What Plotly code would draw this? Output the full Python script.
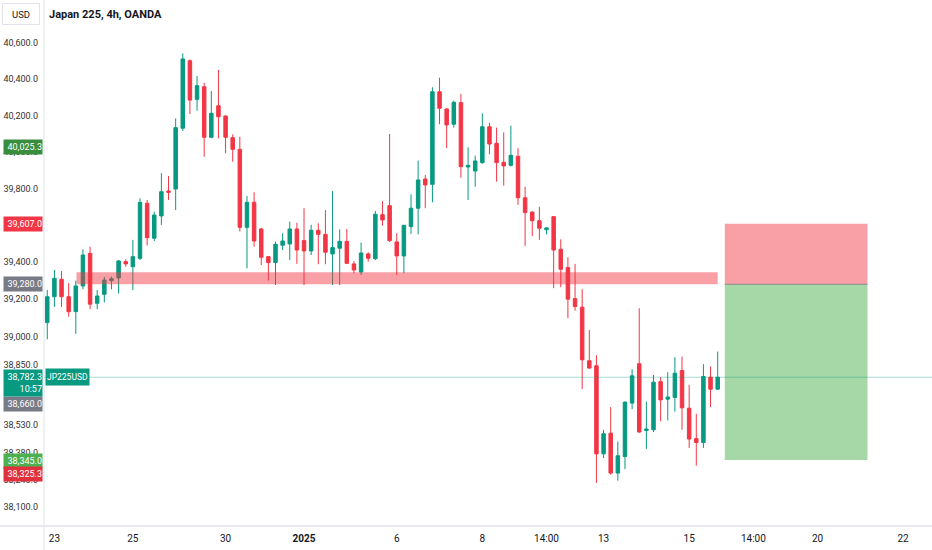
import math
import plotly.graph_objects as go

# ---------------- data ----------------
opens = [39074, 39213, 39307, 39213, 39133, 39271, 39447, 39178, 39226, 39300,
         39314, 39402, 39375, 39420, 39719, 39529, 39650, 39786, 39797, 40130,
         40503, 40289, 40359, 40080, 40254, 40197, 40078, 40014, 39588, 39724,
         39579, 39429, 39397, 39491, 39498, 39579, 39516, 39460, 39572, 39550,
         39444, 39475, 39512, 39390, 39346, 39444, 39418, 39657, 39706, 39509,
         39433, 39592, 39692, 39851, 39822, 40331, 40236, 40152, 40271, 39917,
         39895, 39941, 40138, 40047, 39943, 39926, 39976, 39749, 39671, 39624,
         39575, 39646, 39469, 39370, 39203, 39157, 38870, 38843, 38377, 38486,
         38276, 38363, 38645, 38854, 38500, 38504, 38759, 38666, 38675, 38818,
         38618, 38457, 38437, 38783, 38719]
highs = [39249, 39357, 39352, 39286, 39300, 39469, 39483, 39249, 39320, 39322,
         39411, 39415, 39520, 39746, 39737, 39673, 39883, 39868, 40184, 40544,
         40510, 40418, 40381, 40335, 40452, 40200, 40096, 40083, 39759, 39779,
         39585, 39432, 39510, 39556, 39619, 39613, 39692, 39602, 39610, 39682,
         39786, 39577, 39579, 39406, 39505, 39453, 39677, 39731, 40098, 39556,
         39600, 39768, 39952, 39873, 40356, 40409, 40240, 40282, 40319, 40025,
         39979, 40212, 40160, 40133, 40107, 40144, 40020, 39809, 39675, 39700,
         39588, 39650, 39523, 39426, 39390, 39253, 39035, 38900, 38504, 38624,
         38442, 38655, 38825, 39151, 38653, 38795, 38783, 38809, 38889, 38892,
         38742, 38588, 38852, 38839, 38919]
lows = [38985, 39158, 39158, 39106, 39014, 39253, 39146, 39146, 39182, 39253,
        39230, 39375, 39249, 39411, 39489, 39514, 39601, 39737, 39682, 40115,
        40208, 40226, 39973, 40075, 40074, 39992, 39946, 39565, 39366, 39483,
        39384, 39300, 39276, 39465, 39411, 39390, 39276, 39438, 39388, 39388,
        39276, 39276, 39390, 39339, 39330, 39402, 39411, 39597, 39509, 39330,
        39339, 39552, 39550, 39692, 39724, 40152, 40020, 40133, 39858, 39737,
        39809, 39935, 39987, 39837, 39815, 39920, 39710, 39487, 39541, 39520,
        39550, 39259, 39264, 39098, 39138, 38719, 38828, 38224, 38355, 38267,
        38236, 38297, 38613, 38488, 38402, 38492, 38548, 38553, 38600, 38504,
        38408, 38315, 38408, 38624, 38715]
closes = [39213, 39312, 39213, 39133, 39271, 39438, 39173, 39217, 39303, 39310,
          39406, 39390, 39429, 39724, 39532, 39655, 39782, 39779, 40133, 40513,
          40285, 40365, 40080, 40212, 40193, 40080, 40014, 39588, 39724, 39514,
          39426, 39397, 39496, 39514, 39579, 39465, 39460, 39572, 39550, 39453,
          39478, 39512, 39393, 39357, 39449, 39420, 39659, 39628, 39516, 39433,
          39599, 39692, 39846, 39819, 40331, 40240, 40148, 40273, 39919, 39926,
          39950, 40138, 40043, 39941, 39923, 39981, 39749, 39668, 39624, 39583,
          39585, 39465, 39361, 39200, 39160, 38875, 38831, 38377, 38483, 38276,
          38367, 38650, 38790, 38492, 38508, 38756, 38662, 38677, 38804, 38620,
          38455, 38437, 38786, 38719, 38782.3]
bar_index = list(range(len(opens)))

x_tick_pos = [1, 12, 25, 36, 49, 61, 70, 78, 90, 99, 108, 120]
x_tick_labels = ["23", "25", "30", "<b>2025</b>", "6", "8", "14:00", "13",
                 "15", "14:00", "20", "22"]

y_ticks = [40600, 40400, 40200, 40000, 39800, 39400, 39200, 39000,
           38850, 38530, 38380, 38240, 38100]

# drawings
zone_start, zone_end = 4.1, 94
zone_low, zone_high = 39280.0, 39345.0
pos_start, pos_end = 95, 115
entry_price = 39280.0
stop_price = 39607.0
target_price = 38345.0
last_price = 38782.3

# price-scale labels: (price, text, colour, pixel shift)
scale_labels = [
    (40025.3, "40,025.3", "#388e3c", 0),
    (39607.0, "39,607.0", "#f23645", 0),
    (39280.0, "39,280.0", "#787b86", 0),
    (38660.0, "38,660.0", "#787b86", -4),
    (38345.0, "38,345.0", "#4caf50", -1),
    (38325.3, "38,325.3", "#e0303c", -10),
]

UP = "#089981"
DOWN = "#f23645"
FONT = "Roboto"

fig = go.Figure(go.Candlestick(
    x=bar_index, open=opens, high=highs, low=lows, close=closes,
    increasing=dict(line=dict(color=UP, width=1), fillcolor=UP),
    decreasing=dict(line=dict(color=DOWN, width=1), fillcolor=DOWN),
    whiskerwidth=0, hoverinfo="skip", showlegend=False,
))

shapes = [
    # support/resistance zone
    dict(type="rect", xref="x", yref="y", x0=zone_start, x1=zone_end,
         y0=zone_low, y1=zone_high, fillcolor="rgba(242,54,69,0.47)",
         line=dict(width=0), layer="above"),
    # short position: risk box
    dict(type="rect", xref="x", yref="y", x0=pos_start, x1=pos_end,
         y0=entry_price, y1=stop_price, fillcolor="rgba(242,54,69,0.47)",
         line=dict(width=0), layer="above"),
    # reward box
    dict(type="rect", xref="x", yref="y", x0=pos_start, x1=pos_end,
         y0=target_price, y1=entry_price, fillcolor="rgba(76,175,80,0.5)",
         line=dict(width=0), layer="above"),
    dict(type="line", xref="x", yref="y", x0=pos_start, x1=pos_end,
         y0=entry_price, y1=entry_price, line=dict(color="#8a8a8a", width=1),
         layer="above"),
    # last price line
    dict(type="line", xref="paper", yref="y", x0=0, x1=1,
         y0=last_price, y1=last_price,
         line=dict(color="rgba(8,153,129,0.35)", width=1), layer="above"),
    # axis borders
    dict(type="line", xref="paper", yref="paper", x0=-0.05, x1=1, y0=0, y1=0,
         line=dict(color="#d1d4dc", width=1)),
    dict(type="line", xref="paper", yref="paper", x0=0, x1=0, y0=-0.05, y1=1,
         line=dict(color="#e0e3eb", width=1)),
]

annotations = []
for price, text, col, shift in scale_labels:
    annotations.append(dict(
        xref="paper", x=0, xanchor="right", xshift=-1,
        yref="y", y=math.log10(price), yanchor="middle", yshift=shift,
        text=text, showarrow=False, bgcolor=col, width=38, height=14,
        align="right", borderpad=0,
        font=dict(family=FONT, size=9, color="white")))

annotations.append(dict(
    xref="paper", x=0, xanchor="right", xshift=-1,
    yref="y", y=math.log10(last_price), yanchor="top", yshift=8,
    text=f"{last_price:,.1f}<br>10:57", showarrow=False, bgcolor=UP,
    width=38, height=26, align="right", borderpad=0,
    font=dict(family=FONT, size=9, color="white")))
annotations.append(dict(
    xref="paper", x=0, xanchor="left", xshift=1,
    yref="y", y=math.log10(last_price), yanchor="middle",
    text="JP225USD", showarrow=False, bgcolor=UP, height=14,
    borderpad=1, font=dict(family=FONT, size=8.5, color="white")))
annotations.append(dict(
    xref="paper", x=0, xanchor="left", xshift=3,
    yref="paper", y=1, yanchor="top", yshift=-6,
    text="<b>Japan 225, 4h, OANDA</b>", showarrow=False,
    font=dict(family=FONT, size=11, color="#131722")))
annotations.append(dict(
    xref="paper", x=0, xanchor="right", xshift=-4,
    yref="paper", y=1, yanchor="top", yshift=-3,
    text="USD", showarrow=False, bordercolor="#e0e3eb", borderwidth=1,
    width=34, height=18, font=dict(family=FONT, size=9.5, color="#131722")))

y_lo, y_hi = 37999.0, 40841.9

fig.update_layout(
    width=932, height=550,
    margin=dict(l=44, r=0, t=0, b=24, autoexpand=False),
    paper_bgcolor="white", plot_bgcolor="white",
    shapes=shapes, annotations=annotations,
    showlegend=False,
    font=dict(family=FONT, size=10, color="#131722"),
    xaxis=dict(
        range=[-0.46, 124.05], rangeslider=dict(visible=False),
        tickmode="array", tickvals=x_tick_pos, ticktext=x_tick_labels,
        showgrid=False, zeroline=False, showline=False, ticks="",
        ticklabelstandoff=5, automargin=False,
        tickfont=dict(family=FONT, size=10, color="#131722"),
        fixedrange=True,
    ),
    yaxis=dict(
        type="log", range=[math.log10(y_lo), math.log10(y_hi)], side="left",
        tickmode="array", tickvals=y_ticks,
        ticktext=[f"{v:,.1f}" for v in y_ticks],
        showgrid=False, zeroline=False, showline=False, ticks="",
        ticklabelstandoff=5, automargin=False,
        tickfont=dict(family=FONT, size=9, color="#333"),
        fixedrange=True,
    ),
)

fig.write_html("out.html", config={"displayModeBar": False},
               post_script="document.body.style.margin='0';"
                           "document.body.style.overflow='hidden';")
